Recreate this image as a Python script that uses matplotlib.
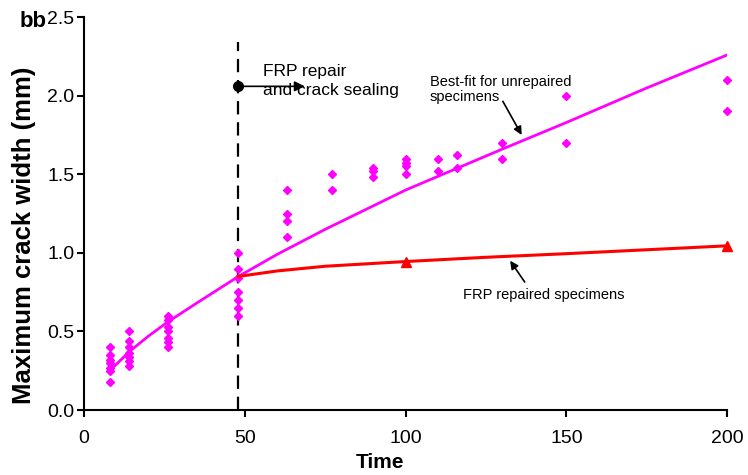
import matplotlib.pyplot as plt

plt.rcParams['font.family'] = ['Liberation Sans', 'DejaVu Sans']

# --- measured crack widths (unrepaired specimens) ---
test_times = [8] * 7 + [14] * 7 + [26] * 7 + [48] * 7 + [63] * 4 + [77] * 2 + \
    [90] * 3 + [100] * 4 + [110] * 2 + [116] * 2 + [130] * 2 + [150] * 2 + [200] * 2
crack_widths = [0.40, 0.35, 0.32, 0.30, 0.27, 0.25, 0.18,
                0.50, 0.44, 0.40, 0.36, 0.34, 0.31, 0.28,
                0.60, 0.57, 0.53, 0.50, 0.46, 0.43, 0.40,
                1.00, 0.90, 0.84, 0.75, 0.70, 0.65, 0.60,
                1.40, 1.25, 1.20, 1.10,
                1.50, 1.40,
                1.54, 1.52, 1.48,
                1.60, 1.57, 1.55, 1.50,
                1.60, 1.52,
                1.62, 1.54,
                1.70, 1.60,
                2.00, 1.70,
                2.10, 1.90]

# --- best-fit curve for unrepaired specimens ---
fit_times = [8, 14, 20, 26, 35, 48, 60, 75, 90, 100, 115, 130, 150, 175, 200]
fit_widths = [0.25, 0.37, 0.47, 0.56, 0.68, 0.85, 0.99, 1.15, 1.30, 1.40,
              1.53, 1.66, 1.83, 2.05, 2.26]

# --- FRP repaired specimens ---
rep_times = [48, 60, 75, 100, 125, 150, 175, 200]
rep_widths = [0.85, 0.885, 0.915, 0.945, 0.972, 0.995, 1.02, 1.045]
rep_marks = [3, 7]

repair_time = 48

fig = plt.figure(figsize=(7.48, 4.75), dpi=100)
ax = fig.add_axes([0.1123, 0.1368, 0.86, 0.827])

ax.plot(fit_times, fit_widths, color='#FF00FF', lw=2, zorder=2)
ax.plot(test_times, crack_widths, 'D', color='#FF00FF', ms=4.5, mec='#FF00FF',
        ls='none', zorder=3, clip_on=False)
ax.plot(rep_times, rep_widths, color='#FF0000', lw=2.2, marker='^', ms=7,
        markevery=rep_marks, zorder=4, clip_on=False)

ax.plot([repair_time, repair_time], [0, 2.34], color='black', lw=1.6,
        ls=(0, (6, 3.5)), zorder=1)
ax.plot([repair_time], [2.06], 'o', color='black', ms=7, zorder=5)
ax.annotate('', xy=(69.5, 2.06), xytext=(repair_time, 2.06),
            arrowprops=dict(arrowstyle='-|>', color='black', lw=1.2,
                            mutation_scale=15))
ax.text(55.7, 2.2, 'FRP repair\nand crack sealing', fontsize=12.5, va='top',
        ha='left', linespacing=1.3)

ax.text(107.5, 2.13, 'Best-fit for unrepaired\nspecimens', fontsize=10.5,
        va='top', ha='left', linespacing=1.1)
ax.annotate('', xy=(136.5, 1.735), xytext=(129.8, 1.98),
            arrowprops=dict(arrowstyle='-|>', color='black', lw=1.2,
                            mutation_scale=12))

ax.text(143, 0.73, 'FRP repaired specimens', fontsize=10.5, va='center',
        ha='center')
ax.annotate('', xy=(132, 0.965), xytext=(137.5, 0.8),
            arrowprops=dict(arrowstyle='-|>', color='black', lw=1.2,
                            mutation_scale=12))

ax.set_xlim(0, 200)
ax.set_ylim(0, 2.5)
ax.set_xticks([0, 50, 100, 150, 200])
ax.set_yticks([0, 0.5, 1.0, 1.5, 2.0, 2.5])
ax.set_yticklabels(['0.0', '0.5', '1.0', '1.5', '2.0', '2.5'])
ax.tick_params(direction='out', length=5, width=1.5, labelsize=14)
ax.tick_params(axis='x', pad=9.5)
ax.tick_params(axis='y', pad=2)
for side in ['top', 'right']:
    ax.spines[side].set_visible(False)
for side in ['left', 'bottom']:
    ax.spines[side].set_linewidth(1.5)

ax.set_xlabel('Time', fontsize=15, fontweight='bold')
ax.xaxis.set_label_coords(0.46, -0.11)
ax.set_ylabel('Maximum crack width (mm)', fontsize=18.5, fontweight='bold')
ax.yaxis.set_label_coords(-0.075, 0.445)

fig.text(0.044, 0.955, 'bb', fontsize=16, fontweight='bold', va='center',
         ha='center')

fig.savefig('out.png', dpi=100)
